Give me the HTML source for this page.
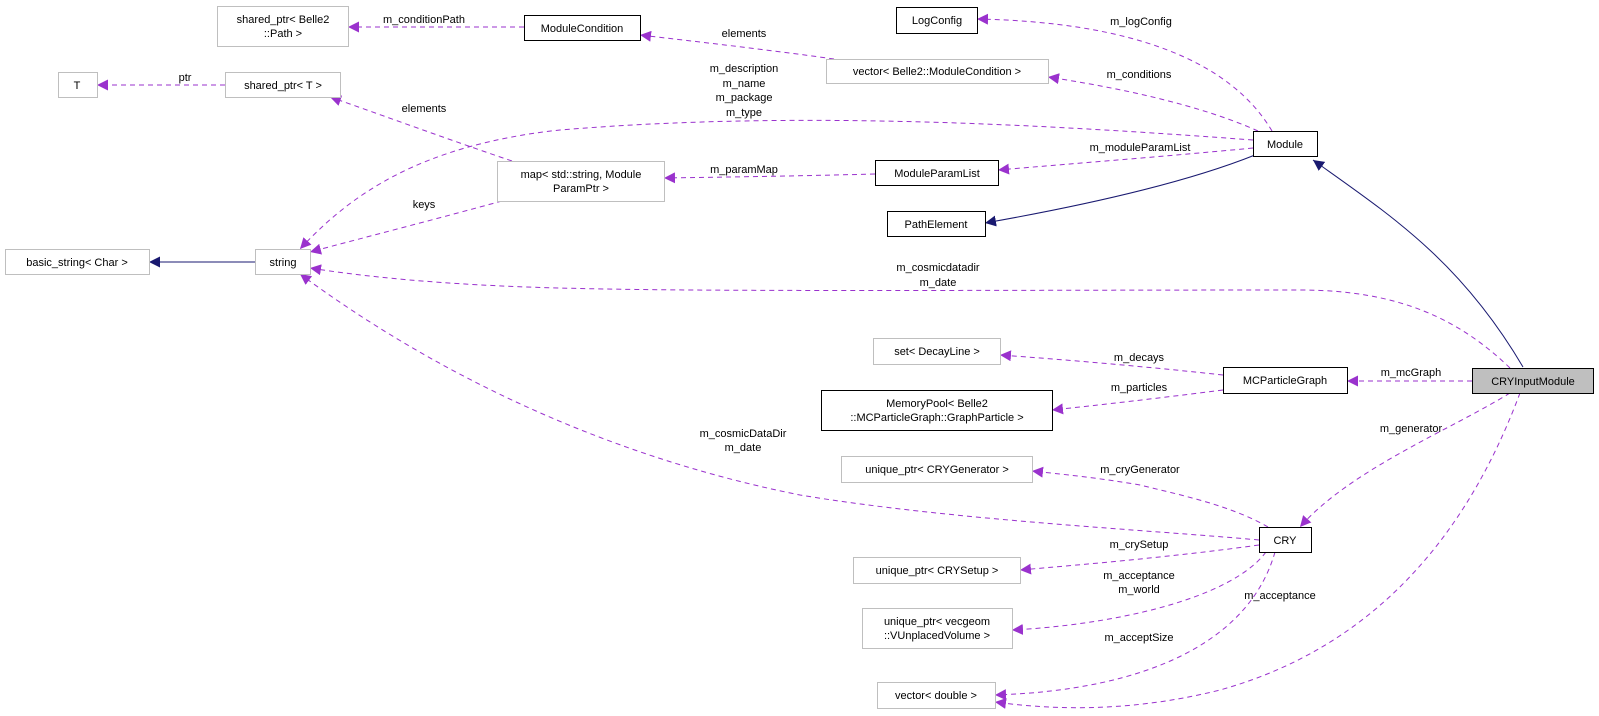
<!DOCTYPE html>
<html><head><meta charset="utf-8"><style>
html,body{margin:0;padding:0;background:#fff;}
svg{display:block;font-family:"Liberation Sans",Arial,sans-serif;font-size:11px;}
</style></head><body>
<svg width="1599" height="716" viewBox="0 0 1599 716" xmlns="http://www.w3.org/2000/svg">
<defs>
<marker id="p" viewBox="0 0 10 10" refX="10" refY="5" markerWidth="11" markerHeight="11" markerUnits="userSpaceOnUse" orient="auto"><path d="M0,0L10,5L0,10z" fill="#9a32cd"/></marker>
<marker id="n" viewBox="0 0 10 10" refX="10" refY="5" markerWidth="11" markerHeight="11" markerUnits="userSpaceOnUse" orient="auto"><path d="M0,0L10,5L0,10z" fill="#191970"/></marker>
</defs>
<g fill="none" stroke="#9a32cd" stroke-dasharray="5,4" stroke-width="1" marker-end="url(#p)">
<path d="M1272,131 C1230,60 1130,22 977,19"/>
<path d="M1258,131 C1200,105 1120,88 1048,77"/>
<path d="M834,59 C770,50 700,42 640,35"/>
<path d="M524,27 L348,27"/>
<path d="M225,85 L97,85"/>
<path d="M512,161 C450,140 390,118 330,97"/>
<path d="M1253,140 C1050,125 800,110 560,130 C420,145 350,195 300,249"/>
<path d="M502,201 C440,218 370,236 310,252"/>
<path d="M875,174 C800,176 730,177 664,178"/>
<path d="M1253,148 C1170,156 1080,163 998,170"/>
<path d="M1510,368 C1460,320 1400,290 1300,290 C1000,290 700,292 560,288 C440,285 360,276 310,268"/>
<path d="M1472,381 L1347,381"/>
<path d="M1223,375 C1150,367 1070,360 1000,355"/>
<path d="M1223,390 C1160,398 1100,405 1052,410"/>
<path d="M1510,393 C1450,430 1350,470 1300,527"/>
<path d="M1520,393 C1480,500 1400,640 1220,690 C1120,715 1040,708 995,702"/>
<path d="M1259,540 C1150,530 950,520 800,495 C600,455 430,370 300,274"/>
<path d="M1268,527 C1230,505 1180,495 1140,485 C1100,478 1060,474 1032,471"/>
<path d="M1259,545 C1180,556 1090,564 1020,570"/>
<path d="M1266,552 C1230,600 1110,625 1012,630"/>
<path d="M1275,552 C1250,640 1150,690 995,695"/>
</g>
<g fill="none" stroke="#191970" stroke-width="1" marker-end="url(#n)">
<path d="M1255,155 C1180,185 1070,208 985,223"/>
<path d="M1523,367 C1460,260 1390,215 1313,160"/>
<path d="M255,262 L149,262"/>
</g>
<g stroke-width="1">
<rect x="217.5" y="6.5" width="131" height="40" fill="#fff" stroke="#bfbfbf"/>
<rect x="524.5" y="15.5" width="116" height="25" fill="#fff" stroke="#000"/>
<rect x="58.5" y="72.5" width="39" height="25" fill="#fff" stroke="#bfbfbf"/>
<rect x="225.5" y="72.5" width="115" height="25" fill="#fff" stroke="#bfbfbf"/>
<rect x="896.5" y="7.5" width="81" height="26" fill="#fff" stroke="#000"/>
<rect x="826.5" y="59.5" width="222" height="24" fill="#fff" stroke="#bfbfbf"/>
<rect x="1253.5" y="131.5" width="64" height="25" fill="#fff" stroke="#000"/>
<rect x="497.5" y="161.5" width="167" height="40" fill="#fff" stroke="#bfbfbf"/>
<rect x="875.5" y="160.5" width="123" height="25" fill="#fff" stroke="#000"/>
<rect x="887.5" y="211.5" width="98" height="25" fill="#fff" stroke="#000"/>
<rect x="5.5" y="249.5" width="144" height="25" fill="#fff" stroke="#bfbfbf"/>
<rect x="255.5" y="249.5" width="55" height="25" fill="#fff" stroke="#bfbfbf"/>
<rect x="873.5" y="338.5" width="127" height="26" fill="#fff" stroke="#bfbfbf"/>
<rect x="1223.5" y="367.5" width="124" height="26" fill="#fff" stroke="#000"/>
<rect x="821.5" y="390.5" width="231" height="40" fill="#fff" stroke="#000"/>
<rect x="1472.5" y="368.5" width="121" height="25" fill="#bfbfbf" stroke="#000"/>
<rect x="841.5" y="456.5" width="191" height="26" fill="#fff" stroke="#bfbfbf"/>
<rect x="1259.5" y="527.5" width="52" height="25" fill="#fff" stroke="#000"/>
<rect x="853.5" y="557.5" width="167" height="26" fill="#fff" stroke="#bfbfbf"/>
<rect x="862.5" y="608.5" width="150" height="40" fill="#fff" stroke="#bfbfbf"/>
<rect x="877.5" y="682.5" width="118" height="26" fill="#fff" stroke="#bfbfbf"/>
</g>
<g fill="#000" text-anchor="middle">
<text x="283" y="23">shared_ptr&lt; Belle2</text><text x="283" y="37">::Path &gt;</text>
<text x="582" y="32">ModuleCondition</text>
<text x="77" y="89">T</text>
<text x="283" y="89">shared_ptr&lt; T &gt;</text>
<text x="937" y="24">LogConfig</text>
<text x="937" y="75">vector&lt; Belle2::ModuleCondition &gt;</text>
<text x="1285" y="148">Module</text>
<text x="581" y="178">map&lt; std::string, Module</text><text x="581" y="192">ParamPtr &gt;</text>
<text x="937" y="177">ModuleParamList</text>
<text x="936" y="228">PathElement</text>
<text x="77" y="266">basic_string&lt; Char &gt;</text>
<text x="283" y="266">string</text>
<text x="937" y="355">set&lt; DecayLine &gt;</text>
<text x="1285" y="384">MCParticleGraph</text>
<text x="937" y="407">MemoryPool&lt; Belle2</text><text x="937" y="421">::MCParticleGraph::GraphParticle &gt;</text>
<text x="1533" y="385">CRYInputModule</text>
<text x="937" y="473">unique_ptr&lt; CRYGenerator &gt;</text>
<text x="1285" y="544">CRY</text>
<text x="937" y="574">unique_ptr&lt; CRYSetup &gt;</text>
<text x="937" y="625">unique_ptr&lt; vecgeom</text><text x="937" y="639">::VUnplacedVolume &gt;</text>
<text x="936" y="699">vector&lt; double &gt;</text>
</g>
<g fill="#000" text-anchor="middle">
<text x="1141" y="25">m_logConfig</text>
<text x="1139" y="78">m_conditions</text>
<text x="744" y="37">elements</text>
<text x="424" y="23">m_conditionPath</text>
<text x="185" y="81">ptr</text>
<text x="424" y="112">elements</text>
<text x="744" y="72">m_description</text><text x="744" y="87">m_name</text><text x="744" y="101">m_package</text><text x="744" y="116">m_type</text>
<text x="424" y="208">keys</text>
<text x="744" y="173">m_paramMap</text>
<text x="1140" y="151">m_moduleParamList</text>
<text x="938" y="271">m_cosmicdatadir</text><text x="938" y="286">m_date</text>
<text x="1411" y="376">m_mcGraph</text>
<text x="1139" y="361">m_decays</text>
<text x="1139" y="391">m_particles</text>
<text x="1411" y="432">m_generator</text>
<text x="1280" y="599">m_acceptance</text>
<text x="743" y="437">m_cosmicDataDir</text><text x="743" y="451">m_date</text>
<text x="1140" y="473">m_cryGenerator</text>
<text x="1139" y="548">m_crySetup</text>
<text x="1139" y="579">m_acceptance</text><text x="1139" y="593">m_world</text>
<text x="1139" y="641">m_acceptSize</text>
</g>
</svg>
</body></html>
